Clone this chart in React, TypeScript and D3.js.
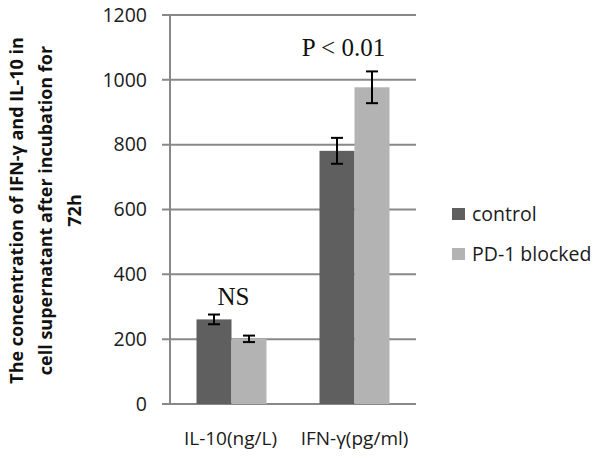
import React from "react";
import * as d3 from "d3";

const categories = ["IL-10(ng/L)", "IFN-γ(pg/ml)"];
const seriesNames = ["control", "PD-1 blocked"];
const controlValues = [261, 781];
const controlErrors = [15, 40];
const blockedValues = [201, 977];
const blockedErrors = [10, 49];
const yTicks = [0, 200, 400, 600, 800, 1000, 1200];
const annotations = ["NS", "P < 0.01"];
const annotationValues = [305, 1075];
const yTitleLines = [
  "The concentration of IFN-γ and IL-10 in",
  "cell supernatant after  incubation for",
  "72h",
];

const W = 600;
const H = 459;
const left = 170;
const right = 416;
const top = 15;
const bottom = 404;
const colors = ["#5f5f5f", "#b3b3b3"];
const gridColor = "#888888";

export default function App() {
  const y = d3.scaleLinear().domain([0, 1200]).range([bottom, top]);
  const x0 = d3.scaleBand().domain(categories).range([left, right]).paddingInner(0).paddingOuter(0);
  const groupW = 70;
  const x1 = d3.scaleBand().domain(seriesNames).range([0, groupW]).padding(0);
  const series = [
    { name: seriesNames[0], values: controlValues, errors: controlErrors, color: colors[0] },
    { name: seriesNames[1], values: blockedValues, errors: blockedErrors, color: colors[1] },
  ];
  const font = "'Open Sans', sans-serif";
  return (
    <svg width={W} height={H} style={{ position: "absolute", left: 0, top: 0, background: "#fff" }}>
      {yTicks.map((t) => (
        <g key={t}>
          <line x1={162} x2={right} y1={y(t)} y2={y(t)} stroke={gridColor} strokeWidth={2} />
          <text x={147} y={y(t)} dy="0.35em" textAnchor="end" fontFamily={font} fontSize={19.5} fill="#1a1a1a">
            {t}
          </text>
        </g>
      ))}
      <line x1={left} x2={left} y1={top} y2={bottom} stroke={gridColor} strokeWidth={2} />
      {series.map((s) =>
        categories.map((c, i) => {
          const bx = (x0(c) as number) + (x0.bandwidth() - groupW) / 2 + (x1(s.name) as number);
          const cx = bx + x1.bandwidth() / 2;
          return (
            <g key={s.name + c}>
              <rect x={bx} y={y(s.values[i])} width={x1.bandwidth()} height={bottom - y(s.values[i])} fill={s.color} />
              <g stroke="#000" strokeWidth={2}>
                <line x1={cx} x2={cx} y1={y(s.values[i] + s.errors[i])} y2={y(s.values[i] - s.errors[i])} />
                <line x1={cx - 6} x2={cx + 6} y1={y(s.values[i] + s.errors[i])} y2={y(s.values[i] + s.errors[i])} />
                <line x1={cx - 6} x2={cx + 6} y1={y(s.values[i] - s.errors[i])} y2={y(s.values[i] - s.errors[i])} />
              </g>
            </g>
          );
        })
      )}
      {categories.map((c, i) => (
        <g key={c}>
          <text
            x={(x0(c) as number) + x0.bandwidth() / 2 + (i === 0 ? -1 : 0)}
            y={445}
            textAnchor="middle"
            fontFamily={font}
            fontSize={19}
            fill="#1a1a1a"
          >
            {c}
          </text>
          <text
            x={(x0(c) as number) + x0.bandwidth() / 2 + (i === 0 ? 2 : -11)}
            y={y(annotationValues[i])}
            textAnchor="middle"
            fontFamily="'Liberation Serif', 'Times New Roman', serif"
            fontSize={25}
            fill="#111"
          >
            {annotations[i]}
          </text>
        </g>
      ))}
      {series.map((s, i) => (
        <g key={s.name} transform={`translate(452, ${208 + i * 40})`}>
          <rect x={0} y={0} width={13} height={12} fill={s.color} />
          <text x={20} y={6} dy="0.35em" fontFamily={font} fontSize={19.5} fill="#1a1a1a">
            {s.name}
          </text>
        </g>
      ))}
      {yTitleLines.map((l, i) => (
        <text
          key={i}
          transform={`translate(${23 + i * 29}, ${(top + bottom) / 2 + 1}) rotate(-90)`}
          textAnchor="middle"
          fontFamily={font}
          fontWeight="bold"
          fontSize={18}
          fill="#111"
        >
          {l}
        </text>
      ))}
    </svg>
  );
}
